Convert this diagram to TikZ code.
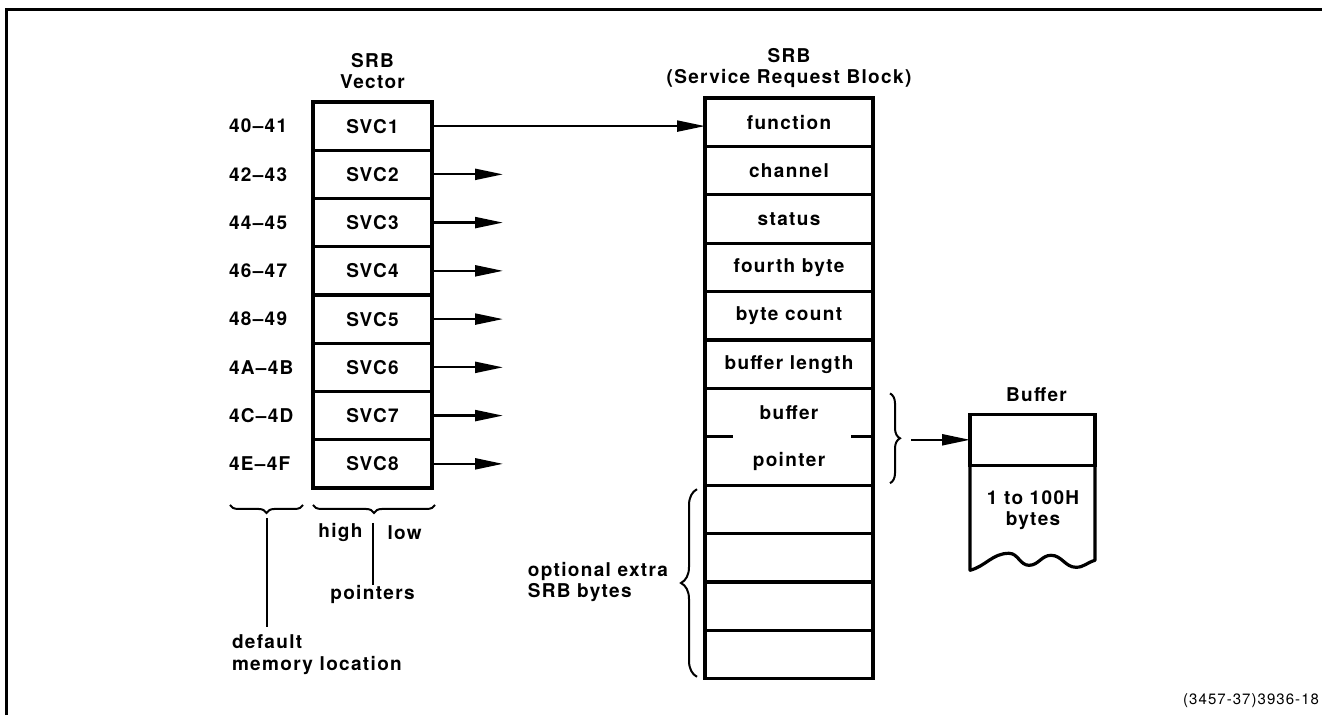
\documentclass[tikz,border=0pt]{standalone}
\usepackage{fontspec}
\setmainfont{TeX Gyre Heros}[LetterSpace=7]
\usepackage{tikz}
\usetikzlibrary{positioning, arrows.meta, decorations.pathreplacing}
\tikzset{>={Triangle[length=28pt,width=11pt]},
x=1pt, y=1pt,
every node/.style={font=\fontsize{19}{21.5}\selectfont\bfseries, inner sep=0pt, outer sep=0pt},
cell/.style={draw, line width=3.2pt, minimum width=119pt, minimum height=48.25pt},
srbcell/.style={draw, line width=3.2pt, minimum width=168pt, minimum height=48.4pt},
addr/.style={text width=72pt, align=left},
curly/.style={decorate, decoration={brace, amplitude=#1}, line width=2pt},
curly/.default=9pt,
pointer/.style={->, line width=2.2pt}
}

\begin{document}
\begin{tikzpicture}
\useasboundingbox (0,0) rectangle (1322,715);
%\draw[help lines,step=50] (0,0) grid (1322,715);
\draw[line width=3pt] (6,0) -- (6,705) -- (1322,705);
% SRB vector
\node[cell] (svc1) at (372.5,588.9) {SVC1};
\node[cell,below=0pt of svc1] (svc2) {SVC2};
\node[cell,below=0pt of svc2] (svc3) {SVC3};
\node[cell,below=0pt of svc3] (svc4) {SVC4};
\node[cell,below=0pt of svc4] (svc5) {SVC5};
\node[cell,below=0pt of svc5] (svc6) {SVC6};
\node[cell,below=0pt of svc6] (svc7) {SVC7};
\node[cell,below=0pt of svc7] (svc8) {SVC8};
\node[above=13pt of svc1,align=center] (vtitle) {SRB\\Vector};
\node[addr,left=12pt of svc1] (a1) {40--41};
\node[addr,left=12pt of svc2] (a2) {42--43};
\node[addr,left=12pt of svc3] (a3) {44--45};
\node[addr,left=12pt of svc4] (a4) {46--47};
\node[addr,left=12pt of svc5] (a5) {48--49};
\node[addr,left=12pt of svc6] (a6) {4A--4B};
\node[addr,left=12pt of svc7] (a7) {4C--4D};
\node[addr,left=12pt of svc8] (a8) {4E--4F};
% SRB
\node[srbcell] (func) at (789,592.8) {function};
\node[srbcell,below=0pt of func] (chan) {channel};
\node[srbcell,below=0pt of chan] (stat) {status};
\node[srbcell,below=0pt of stat] (fourth) {fourth byte};
\node[srbcell,below=0pt of fourth] (bcount) {byte count};
\node[srbcell,below=0pt of bcount] (blength) {buffer length};
\node[srbcell,below=0pt of blength,minimum height=96.8pt] (bufptr) {};
\node[srbcell,below=0pt of bufptr] (ext1) {};
\node[srbcell,below=0pt of ext1] (ext2) {};
\node[srbcell,below=0pt of ext2] (ext3) {};
\node[srbcell,below=0pt of ext3] (ext4) {};
\node[above=10pt of func,align=center] (stitle) {SRB\\(Service Request Block)};
\node (bufl) at ([yshift=24pt]bufptr.center) {buffer};
\node (ptrl) at ([yshift=-25pt]bufptr.center) {pointer};
\draw[line width=3.2pt] (bufptr.west) -- ++(28,0) (bufptr.east) -- ++(-22,0);
% buffer
\node[draw,line width=3.2pt,minimum width=125pt,minimum height=51pt,right=97pt of bufptr,yshift=-3pt] (buftop) {};
\node[above=13pt of buftop,xshift=4pt] (buftitle) {Buffer};
\draw[line width=3.2pt,line join=round] (buftop.south west) -- ++(0,-105)
  to[out=15,in=180] ++(39,17) to[out=0,in=180] ++(20,-12) to[out=0,in=180] ++(22,10)
  to[out=0,in=180] ++(25,-12) to[out=0,in=195] ++(19,7) -- (buftop.south east);
\node[align=center] (bufsize) at (1033,205) {1 to 100H\\bytes};
% braces
\draw[curly=10pt] ([xshift=17pt,yshift=-5pt]bufptr.north east) -- ([xshift=17pt,yshift=2pt]bufptr.south east);
\coordinate (brtip) at ([xshift=38pt,yshift=-3pt]bufptr.east);
\draw[curly=16pt] ([xshift=-8pt,yshift=2pt]ext4.south west) -- ([xshift=-8pt,yshift=-4pt]ext1.north west);
\coordinate[left=24pt of ext2.south west] (extip);
\node[left=13pt of extip,align=left] (extlab) {optional extra\\SRB bytes};
\draw[curly=8pt] ([xshift=3pt,yshift=-17pt]svc8.south east) -- ([yshift=-17pt]svc8.south west);
\draw[curly=8pt] ([xshift=-10pt,yshift=-17pt]svc8.south west) -- ([xshift=-83pt,yshift=-17pt]svc8.south west);
\coordinate[below=25pt of svc8.south] (ptrtip);
\coordinate (loctip) at ([xshift=-46pt,yshift=-25pt]svc8.south west);
\node[below=72pt of ptrtip] (ptrlab) {pointers};
\node[left=10pt of ptrtip,yshift=-20pt] (high) {high};
\node[right=15pt of ptrtip,yshift=-20pt] (low) {low};
\node[align=left,anchor=north west] (deflab) at ([xshift=-35pt,yshift=-122pt]loctip) {default\\memory location};
\coordinate (locend) at ([yshift=-114pt]loctip);
\draw[line width=2pt] ([yshift=-10pt]ptrtip) -- (ptrlab.north)
  ([yshift=-5pt]loctip) -- (locend);
% pointers out
\draw[pointer] (svc1.east) -- (svc1.east -| func.west);
\draw[pointer] (brtip) -- (brtip -| buftop.west);
\path[pointer]
(svc2.east) edge ++(71,0)
(svc3.east) edge ++(71,0)
(svc4.east) edge ++(71,0)
(svc5.east) edge ++(71,0)
(svc6.east) edge ++(71,0)
(svc7.east) edge ++(71,0)
(svc8.east) edge ++(71,0)
;
\node[font=\fontsize{15}{17}\selectfont,anchor=east] (figno) at (1319,14) {(3457-37)3936-18};
\end{tikzpicture}
\end{document}
